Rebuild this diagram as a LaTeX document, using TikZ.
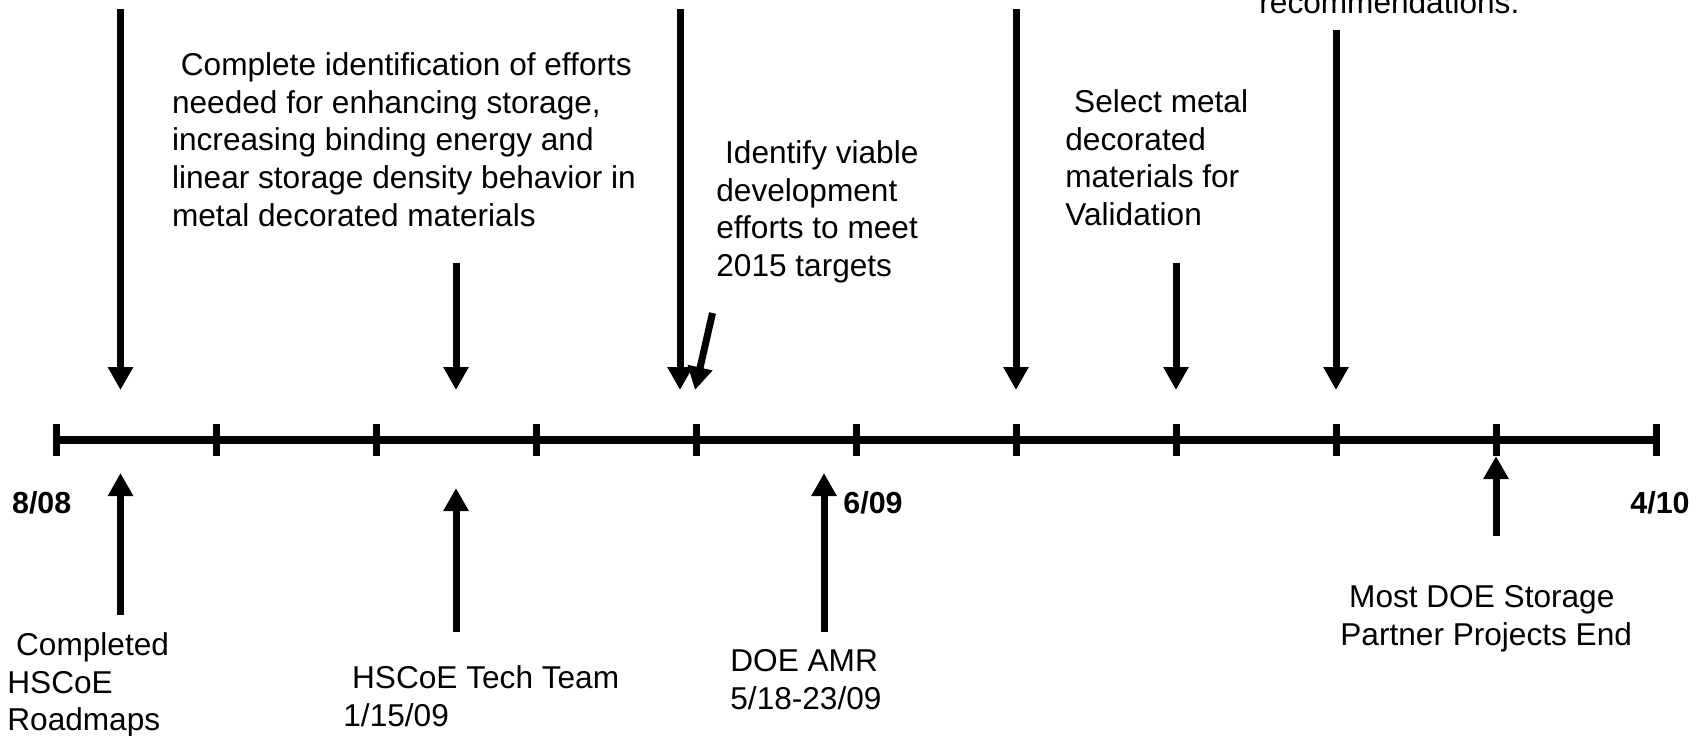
\documentclass[tikz,border=0pt]{standalone}
\usepackage{fontspec}
\setmainfont{Liberation Sans}
\usetikzlibrary{arrows.meta,
positioning}

\begin{document}
\begin{tikzpicture}[
		x=0.5pt, y=-0.5pt,
		timeline/.style={line width=3.7pt},
		tickline/.style={line width=3.8pt},
		pointer/.style={line width=3.5pt, -{Triangle[length=11.5pt,width=12pt]}},
		note/.style={anchor=north west, inner sep=0pt, align=left,
			font=\fontsize{15.8}{18.85}\selectfont},
		datelabel/.style={anchor=base west, inner sep=0pt,
			font=\fontsize{15.2}{18}\selectfont\bfseries}
	]
	\useasboundingbox (0,0) rectangle (1704,735);

	% timeline and its ticks
	\coordinate (start) at (56.5,440);
	\coordinate (end) at (1656.5,440);
	\draw[timeline] (start) -- (end);
	\foreach \i in {0,...,10}
		\draw[tickline] ({56.5+160*\i},424) -- ({56.5+160*\i},456);

	\node[datelabel] (startdate) at (11.7,513) {8/08};
	\node[datelabel] (middate) at (843,513) {6/09};
	\node[datelabel] (enddate) at (1630,513) {4/10};

	% goals above the line
	\node[note] (identify) at (171.7,52) {\ Complete identification of efforts\\needed for enhancing storage,\\increasing binding energy and\\linear storage density behavior in\\metal decorated materials};
	\node[note] (viable) at (716,140) {\ Identify viable\\development\\efforts to meet\\2015 targets};
	\node[note] (select) at (1065,89) {\ Select metal\\decorated\\materials for\\Validation};
	\node[note] (recommend) at (1259,-10) {recommendations.};

	% events below the line
	\node[note] (roadmaps) at (7,632) {\ Completed\\HSCoE\\Roadmaps};
	\node[note] (techteam) at (343,665) {\ HSCoE Tech Team\\1/15/09};
	\node[note] (amr) at (730,649) {DOE AMR\\5/18-23/09};
	\node[note] (partners) at (1340,585) {\ Most DOE Storage\\Partner Projects End};

	% arrows down onto the line
	\foreach \n/\x/\y in {1/120.5/9, 2/456/263, 3/680/9, 5/1016/9, 6/1176/263, 7/1336/30} {
		\coordinate (down\n) at (\x,\y);
		\coordinate (hit\n) at (\x,390);
		\draw[pointer] (down\n) -- (hit\n);
	}
	\coordinate (down4) at (712.5,313);
	\coordinate (hit4) at (695,390);
	\draw[pointer] (down4) -- (hit4);

	% arrows up towards the line
	\foreach \n/\x/\y/\t in {1/120.5/615/473, 2/456/632/488, 3/824/632/473, 4/1496/536/456} {
		\coordinate (up\n) at (\x,\y);
		\coordinate (reach\n) at (\x,\t);
		\draw[pointer] (up\n) -- (reach\n);
	}
\end{tikzpicture}
\end{document}
